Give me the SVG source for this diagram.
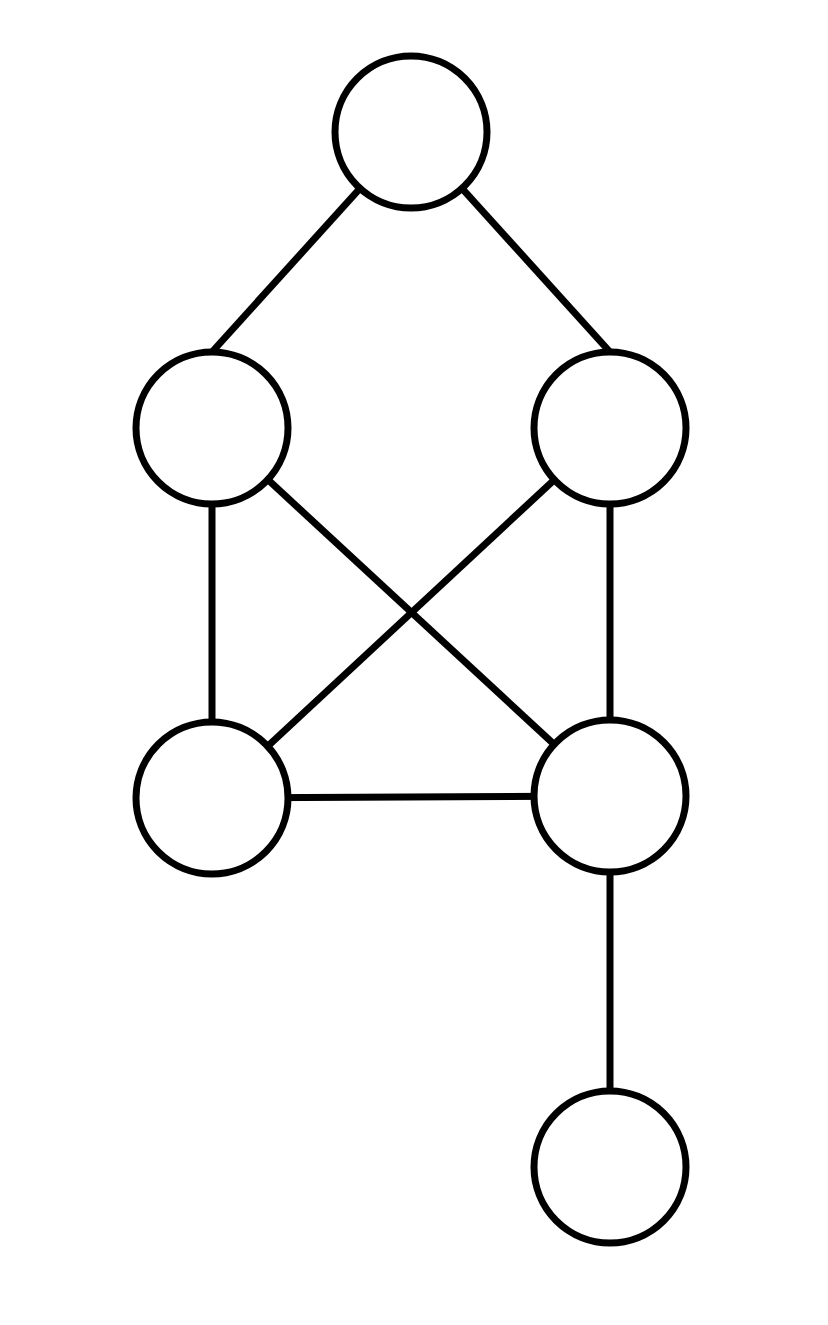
<svg xmlns="http://www.w3.org/2000/svg" width="828" height="1325" viewBox="0 0 828 1325">
<style>
.e{stroke:#000;stroke-width:7;fill:none}
.n{stroke:#000;stroke-width:7;fill:#fff}
</style>
<rect width="828" height="1325" fill="#fff"/>
<g id="edges">
<line class="e" x1="411" y1="132" x2="212" y2="352"/>
<line class="e" x1="411" y1="132" x2="610" y2="352"/>
<line class="e" x1="212" y1="428" x2="212" y2="798"/>
<line class="e" x1="610" y1="428" x2="610" y2="796"/>
<line class="e" x1="212" y1="428" x2="610" y2="796"/>
<line class="e" x1="610" y1="428" x2="212" y2="798"/>
<line class="e" x1="212" y1="798" x2="610" y2="796"/>
<line class="e" x1="610" y1="796" x2="610" y2="1167"/>
</g>
<g id="n1"><circle class="n" cx="411" cy="132" r="76"/></g>
<g id="n2"><circle class="n" cx="212" cy="428" r="76"/></g>
<g id="n3"><circle class="n" cx="610" cy="428" r="76"/></g>
<g id="n4"><circle class="n" cx="212" cy="798" r="76"/></g>
<g id="n5"><circle class="n" cx="610" cy="796" r="76"/></g>
<g id="n6"><circle class="n" cx="610" cy="1167" r="76"/></g>
</svg>
